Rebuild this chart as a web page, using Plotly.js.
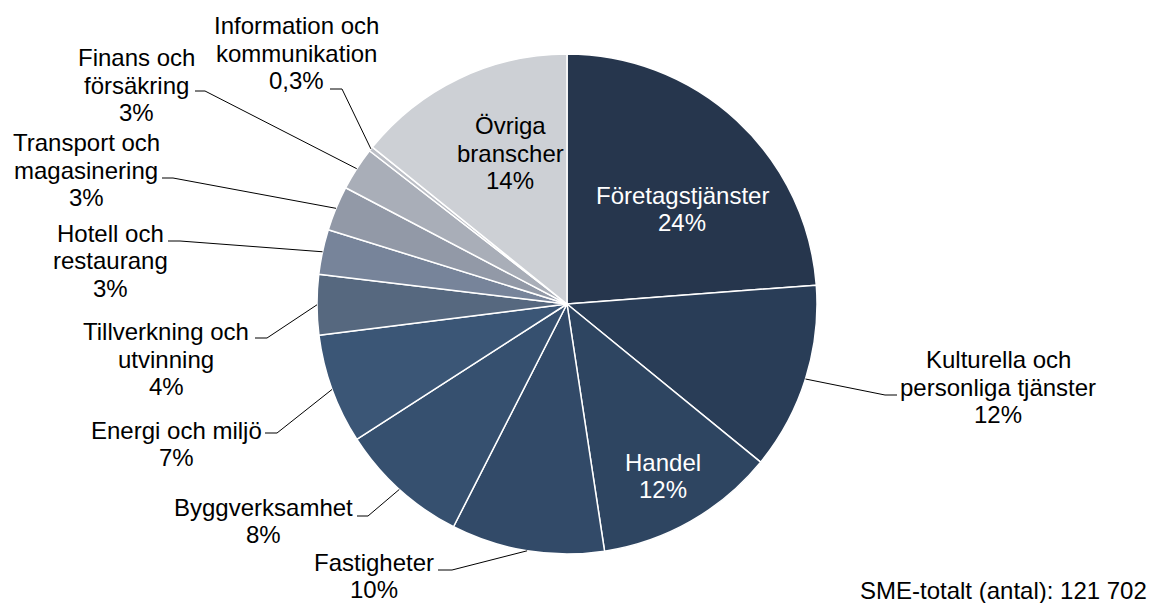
<!DOCTYPE html>
<html>
<head>
<meta charset="utf-8">
<script src="https://cdn.plot.ly/plotly-3.0.1.min.js"></script>
<style>
  body { margin: 0; background: #fff; }
  #plotArea { width: 1155px; height: 603px; }
</style>
</head>
<body>
<div id="plotArea"></div>
<script>
// branscher, medurs från kl 12
var categories = ["Företagstjänster", "Kulturella och personliga tjänster", "Handel", "Fastigheter",
  "Byggverksamhet", "Energi och miljö", "Tillverkning och utvinning", "Hotell och restaurang",
  "Transport och magasinering", "Finans och försäkring", "Information och kommunikation", "Övriga branscher"];
var labelLines = [["Företagstjänster"], ["Kulturella och", "personliga tjänster"], ["Handel"], ["Fastigheter"],
  ["Byggverksamhet"], ["Energi och miljö"], ["Tillverkning och", "utvinning"], ["Hotell och", "restaurang"],
  ["Transport och", "magasinering"], ["Finans och", "försäkring"], ["Information och", "kommunikation"], ["Övriga", "branscher"]];
var shares = [23.8, 12.1, 11.7, 9.9, 8.4, 7.1, 3.9, 2.9, 2.9, 2.8, 0.3, 14.2];
var shareText = ["24%", "12%", "12%", "10%", "8%", "7%", "4%", "3%", "3%", "3%", "0,3%", "14%"];
var colors = ["#26364d", "#293d57", "#2e4561", "#324a68", "#36506f", "#3b5676",
  "#56687f", "#77849a", "#9299a7", "#a9aeb8", "#bcbfc6", "#cdd0d5"];
var totalText = "SME-totalt (antal): 121 702";

// geometri (px)
var W = 1155, H = 603, cx = 567, cy = 304, R = 250;
var FONT = "Liberation Sans, Arial", FS = 24, LH = 27.5;
function px(x) { return x / W; }
function py(y) { return 1 - y / H; }

// label placement: [text centre x, y, inside?, elbow x, y, end x]
var place = [
  [682, 209, true],
  [998, 387, false, 885, 395, 897],
  [663, 476, true],
  [374, 576, false, 452, 570, 438],
  [263, 521, false, 368, 516, 357],
  [176, 444, false, 277, 433, 265],
  [166, 359, false, 267, 338, 255],
  [110, 261, false, 180, 241, 168],
  [86, 170, false, 173, 178, 162],
  [136, 85, false, 205, 91, 195],
  [297, 53, false, 342, 89, 330],
  [510, 153, true]
];

var total = shares.reduce(function (a, b) { return a + b; }, 0);
var annotations = [], shapes = [];
var cum = 0;
shares.forEach(function (v, i) {
  var mid = (cum + v / 2) / total * 2 * Math.PI;
  cum += v;
  var p = place[i];
  var lines = labelLines[i].concat([shareText[i]]);
  var col = (i < 3 && p[2]) ? "#ffffff" : "#000000";
  lines.forEach(function (t, k) {
    var y = p[1] + (k - (lines.length - 1) / 2) * LH;
    annotations.push({
      xref: "paper", yref: "paper", x: px(p[0]), y: py(y),
      xanchor: "center", yanchor: "middle", showarrow: false,
      text: t, font: { family: FONT, size: FS, color: col }
    });
  });
  if (!p[2]) {
    var ex = cx + R * Math.sin(mid), ey = cy - R * Math.cos(mid);
    shapes.push({
      type: "path", xref: "paper", yref: "paper",
      path: "M " + px(ex) + "," + py(ey) + " L " + px(p[3]) + "," + py(p[4]) + " L " + px(p[5]) + "," + py(p[4]),
      line: { color: "#000000", width: 1 }
    });
  }
});

annotations.push({
  xref: "paper", yref: "paper", x: px(1149), y: py(590), xanchor: "right", yanchor: "middle",
  showarrow: false, text: totalText,
  font: { family: FONT, size: FS, color: "#000000" }
});

var trace = {
  type: "pie",
  labels: categories,
  values: shares,
  sort: false,
  direction: "clockwise",
  rotation: 0,
  textinfo: "none",
  hoverinfo: "label+percent",
  marker: { colors: colors, line: { color: "#ffffff", width: 1.5 } },
  domain: { x: [px(cx - R), px(cx + R)], y: [py(cy + R), py(cy - R)] },
  automargin: false
};

var layout = {
  width: W, height: H,
  margin: { l: 0, r: 0, t: 0, b: 0 },
  showlegend: false,
  paper_bgcolor: "#ffffff",
  annotations: annotations,
  shapes: shapes
};

Plotly.newPlot("plotArea", [trace], layout, { displayModeBar: false, staticPlot: true });
</script>
</body>
</html>
